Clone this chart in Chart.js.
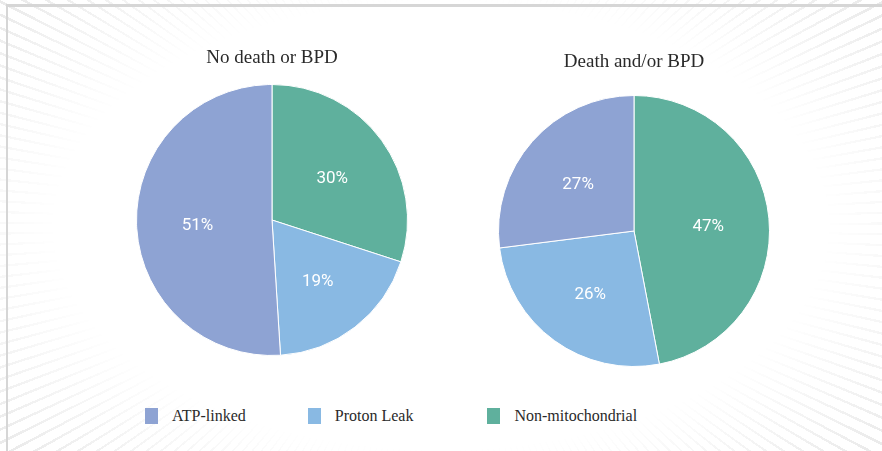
<!DOCTYPE html>
<html>
<head>
<meta charset="utf-8">
<script src="https://cdn.jsdelivr.net/npm/chart.js@4.4.0/dist/chart.umd.min.js"></script>
<style>
  html, body { margin: 0; padding: 0; background: #fff; }
  #wrap { position: relative; width: 882px; height: 451px; overflow: hidden; background: #fff; }
  /* faint sunburst in the background, fading out toward the middle */
  #rays {
    position: absolute; left: 0; top: 0; width: 882px; height: 451px;
    background: repeating-conic-gradient(from 0deg at 50% 50%, #e2e2e2 0deg 0.3deg, transparent 0.3deg 1.4deg);
    -webkit-mask-image: radial-gradient(ellipse 75% 85% at 50% 50%, transparent 58%, #000 100%);
    mask-image: radial-gradient(ellipse 75% 85% at 50% 50%, transparent 58%, #000 100%);
  }
  #frame { position: absolute; left: 6px; top: 4px; width: 900px; height: 460px;
    border-left: 2px solid #d6d6d6; border-top: 3px solid #d6d6d6; }
  canvas { position: absolute; }
  #left { left: 122px; top: 40px; }
  #right { left: 484px; top: 43px; }
  #legend { position: absolute; left: 145px; top: 407px; display: flex;
    font-family: "Liberation Serif", serif; font-size: 16px; color: #2a2a2a; }
  #legend .item { display: flex; align-items: center; }
  #legend .box { width: 13px; height: 16px; margin-right: 14px; }
</style>
</head>
<body>
<div id="wrap">
  <div id="rays"></div>
  <div id="frame"></div>
  <canvas id="left" width="300" height="316"></canvas>
  <canvas id="right" width="300" height="324"></canvas>
  <div id="legend"></div>
</div>
<script>
// categories and values (percent)
const categories = ["ATP-linked", "Proton Leak", "Non-mitochondrial"];
const colors = ["#8ea3d3", "#89b9e3", "#5fb09d"];
const noDeathValues = [51, 19, 30];
const deathValues = [27, 26, 47];
const titles = ["No death or BPD", "Death and/or BPD"];

// white percent labels inside each slice
const percentLabels = {
  id: "percentLabels",
  afterDatasetsDraw(chart) {
    const ctx = chart.ctx;
    const meta = chart.getDatasetMeta(0);
    const data = chart.data.datasets[0].data;
    ctx.save();
    ctx.fillStyle = "#ffffff";
    ctx.font = "17px Roboto, sans-serif";
    ctx.textAlign = "center";
    ctx.textBaseline = "middle";
    meta.data.forEach(function (arc, i) {
      const mid = (arc.startAngle + arc.endAngle) / 2;
      const r = arc.outerRadius * 0.55;
      ctx.fillText(data[i] + "%", arc.x + Math.cos(mid) * r, arc.y + Math.sin(mid) * r + 3);
    });
    ctx.restore();
  }
};

// slices go clockwise from the top starting with the last category
function createPie(id, title, values, padTop, padBottom) {
  return new Chart(document.getElementById(id), {
    type: "pie",
    data: {
      labels: categories.slice().reverse(),
      datasets: [{
        data: values.slice().reverse(),
        backgroundColor: colors.slice().reverse(),
        borderColor: "#ffffff",
        borderWidth: 1
      }]
    },
    options: {
      responsive: false,
      animation: false,
      layout: { padding: { left: 14, right: 14, top: 0, bottom: 0 } },
      plugins: {
        legend: { display: false },
        tooltip: { enabled: false },
        title: {
          display: true,
          text: title,
          color: "#2a2a2a",
          font: { family: "'Liberation Serif', serif", size: 19, weight: "normal" },
          padding: { top: padTop, bottom: padBottom }
        }
      }
    },
    plugins: [percentLabels]
  });
}

createPie("left", titles[0], noDeathValues, 7, 14.2);
createPie("right", titles[1], deathValues, 7.6, 21.6);

// shared legend below both pies
const legendDiv = document.getElementById("legend");
const gaps = [0, 62, 74];
categories.forEach(function (name, i) {
  const item = document.createElement("div");
  item.className = "item";
  item.style.marginLeft = gaps[i] + "px";
  item.innerHTML = '<span class="box" style="background:' + colors[i] + '"></span><span>' + name + "</span>";
  legendDiv.appendChild(item);
});
</script>
</body>
</html>
